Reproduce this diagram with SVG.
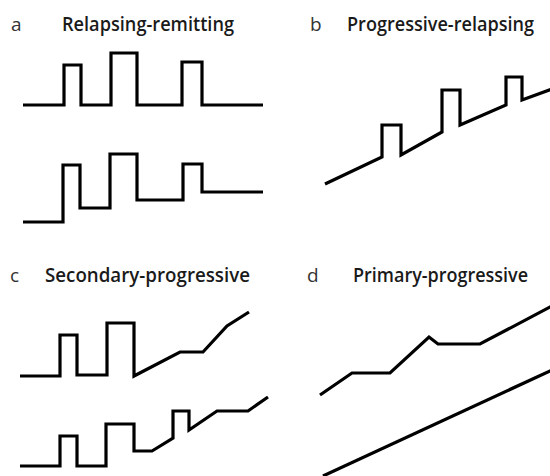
<svg xmlns="http://www.w3.org/2000/svg" width="550" height="476" viewBox="0 0 550 476">
<style>
.trace{fill:none;stroke:#000;stroke-width:3.2;stroke-linejoin:miter;stroke-linecap:butt}
.lbl{font-family:"Open Sans","Liberation Sans",sans-serif;font-size:19px;font-weight:600;fill:#1a1a1a}
.tag{font-family:"Open Sans","Liberation Sans",sans-serif;font-size:19px;font-weight:400;fill:#333}
</style>
<rect width="550" height="476" fill="#fff"/>
<g id="panel-a">
<text class="tag" x="11" y="31">a</text>
<text class="lbl" x="62" y="31" textLength="172" lengthAdjust="spacingAndGlyphs">Relapsing-remitting</text>
<polyline class="trace" points="23,105 64,105 64,65 81,65 81,105 111,105 111,53 137,53 137,105 182,105 182,62 202,62 202,105 263,105"/>
<polyline class="trace" points="23,222 63,222 63,165 80,165 80,208 110,208 110,154 137,154 137,200 183,200 183,164 202,164 202,192 263,192"/>
</g>
<g id="panel-b">
<text class="tag" x="310" y="31">b</text>
<text class="lbl" x="347" y="31" textLength="187" lengthAdjust="spacingAndGlyphs">Progressive-relapsing</text>
<polyline class="trace" points="325,184 382,157 382,125 401,125 401,155 442,132 442,90 460,90 460,125 506,105 506,77 522,77 522,100 552,89"/>
</g>
<g id="panel-c">
<text class="tag" x="10" y="282">c</text>
<text class="lbl" x="45" y="282" textLength="205" lengthAdjust="spacingAndGlyphs">Secondary-progressive</text>
<polyline class="trace" points="20,376 60,376 60,335 77,335 77,375 107,375 107,323 134,323 134,376 180,352 203,352 227,326 249,312"/>
<polyline class="trace" points="20,466 60,466 60,436 77,436 77,466 106,466 106,424 134,424 134,451 152,451 173,438 173,411 189,411 189,430 217,411 248,411 268,397"/>
</g>
<g id="panel-d">
<text class="tag" x="307" y="282">d</text>
<text class="lbl" x="353" y="282" textLength="175" lengthAdjust="spacingAndGlyphs">Primary-progressive</text>
<polyline class="trace" points="320,395 352,373 390,373 429,337 438,344 480,344 552,306"/>
<polyline class="trace" points="323,476 552,370"/>
</g>
</svg>
